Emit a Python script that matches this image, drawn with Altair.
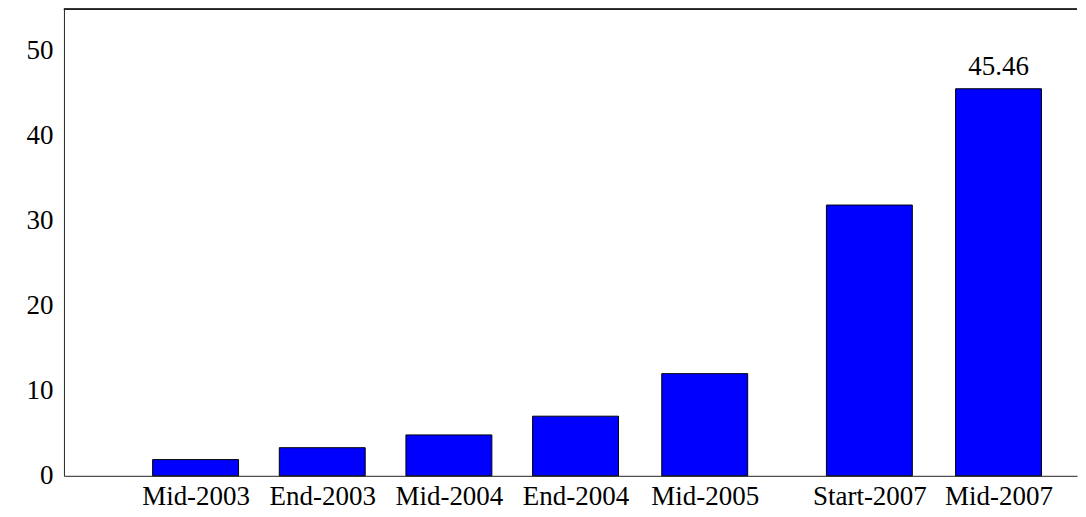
import altair as alt
import pandas as pd

periods = ["Mid-2003", "End-2003", "Mid-2004", "End-2004", "Mid-2005", "Start-2007", "Mid-2007"]
slots = [1.0, 2.0, 3.0, 4.0, 5.02, 6.32, 7.34]
values = [1.9, 3.3, 4.8, 7.0, 12.0, 31.8, 45.46]
y_ticks = [0, 10, 20, 30, 40, 50]

df = pd.DataFrame({"period": periods, "slot": slots, "value": values})
annot = df[df["period"] == "Mid-2007"]

FONT = "Liberation Serif"
FS = 27
W, H = 1014, 467

label_expr = " : ".join(
    f"datum.value == {s} ? '{p}'" for s, p in zip(slots, periods)
) + " : ''"

x_enc = alt.X(
    "slot:Q",
    scale=alt.Scale(domain=[0, 7.92], nice=False, zero=False),
    axis=alt.Axis(
        values=slots, labelExpr=label_expr, title=None, grid=False, ticks=False,
        labelFont=FONT, labelFontSize=FS, labelColor="black", labelPadding=8,
        domainColor="#222222", domainWidth=1, labelFlush=False, labelOverlap=False,
    ),
)
y_enc = alt.Y(
    "value:Q",
    scale=alt.Scale(domain=[0, 54.8], nice=False),
    axis=alt.Axis(
        values=y_ticks, title=None, grid=False, ticks=False,
        labelFont=FONT, labelFontSize=FS, labelColor="black", labelPadding=11,
        domainColor="#222222", domainWidth=1, minExtent=56, maxExtent=56,
    ),
)

bars = alt.Chart(df).mark_bar(
    size=86, color="#0000ff", stroke="black", strokeWidth=1
).encode(x=x_enc, y=y_enc)

label = alt.Chart(annot).mark_text(
    font=FONT, fontSize=FS, color="black", baseline="alphabetic", dy=-14
).encode(x="slot:Q", y="value:Q", text=alt.Text("value:Q", format=".2f"))

top = alt.Chart(df).mark_rule(color="#222222", strokeWidth=1).encode(
    x=alt.value(0), x2=alt.value(W), y=alt.value(0)
)

chart = alt.layer(bars, label, top).properties(
    width=W, height=H, padding={"left": 0, "top": 0, "right": 0, "bottom": 0}
).configure_view(stroke=None)

chart.save("out.html", embed_options={"renderer": "svg", "actions": False})
